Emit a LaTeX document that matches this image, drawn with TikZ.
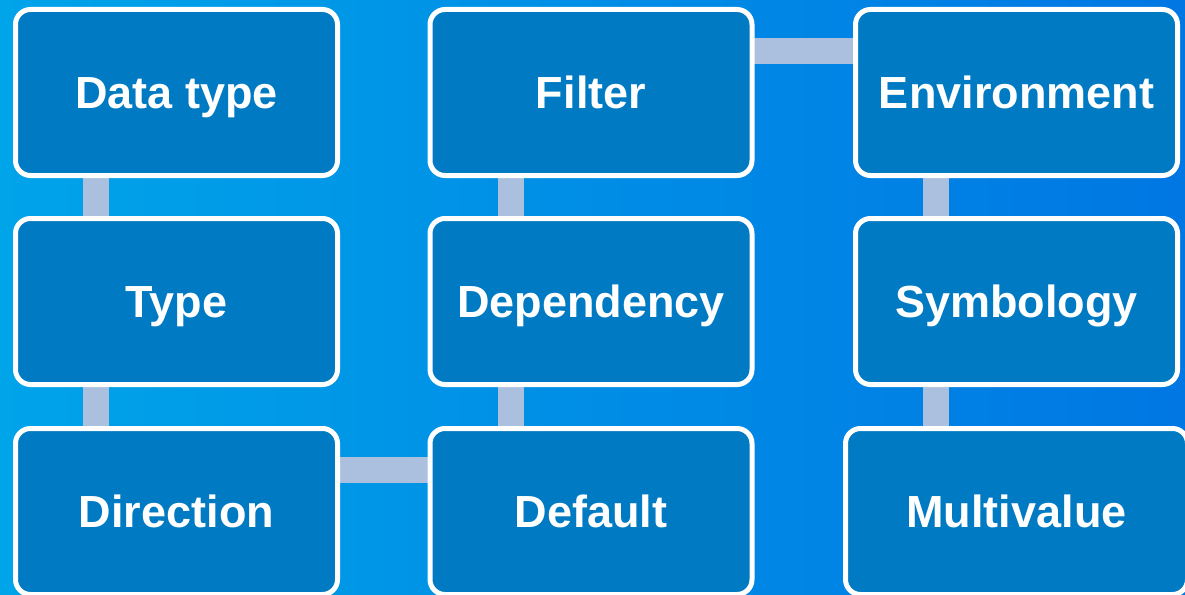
\documentclass[tikz,border=0pt]{standalone}
\usepackage{fontspec}
\setmainfont{Liberation Sans}
\usetikzlibrary{calc}
\definecolor{bgleft}{RGB}{0,164,233}
\definecolor{bgright}{RGB}{0,119,227}
\definecolor{boxfill}{RGB}{0,122,194}
\definecolor{linkcol}{RGB}{171,191,222}
\pgfdeclarelayer{backdrop}
\pgfdeclarelayer{links}
\pgfsetlayers{backdrop,links,main}
\tikzset{
  item/.style={draw=white, line width=5pt, fill=boxfill, rounded corners=15pt,
    minimum width=322pt, minimum height=166pt, inner sep=0pt, outer sep=0pt,
    text height=32pt, text depth=0pt,
    text=white, font=\fontsize{45}{54}\selectfont\bfseries},
  link/.style={draw=linkcol, line width=26pt},
}
\begin{document}
\begin{tikzpicture}[x=1pt,y=-1pt]
  \useasboundingbox (0,0) rectangle (1185,594);
  \begin{pgfonlayer}{backdrop}
    \shade[left color=bgleft, right color=bgright] (0,0) rectangle (1185,594);
  \end{pgfonlayer}

  % three columns of boxes
  \node[item] (dt) at (176.5,92.5)  {Data type};
  \node[item] (ty) at (176.5,301.5) {Type};
  \node[item] (di) at (176.5,511.5) {Direction};
  \node[item] (fi) at (591,92.5)    {Filter};
  \node[item] (de) at (591,301.5)   {Dependency};
  \node[item] (df) at (591,511.5)   {Default};
  \node[item] (en) at (1016.5,92.5) {Environment};
  \node[item] (sy) at (1016.5,301.5) {Symbology};
  \node[item, minimum width=342pt] (mv) at (1016.5,511.5) {Multivalue};

  % connecting bars, a quarter of the way along each box side
  \coordinate (syfoot) at ($(sy.south west)!0.25!(sy.south east)$);
  \begin{pgfonlayer}{links}
    \draw[link] ($(dt.south west)!0.25!(dt.south east)$) -- ($(ty.north west)!0.25!(ty.north east)$);
    \draw[link] ($(ty.south west)!0.25!(ty.south east)$) -- ($(di.north west)!0.25!(di.north east)$);
    \draw[link] ($(di.north east)!0.25!(di.south east)$) -- ($(df.north west)!0.25!(df.south west)$);
    \draw[link] ($(df.north west)!0.25!(df.north east)$) -- ($(de.south west)!0.25!(de.south east)$);
    \draw[link] ($(de.north west)!0.25!(de.north east)$) -- ($(fi.south west)!0.25!(fi.south east)$);
    \draw[link] ($(fi.north east)!0.25!(fi.south east)$) -- ($(en.north west)!0.25!(en.south west)$);
    \draw[link] ($(en.south west)!0.25!(en.south east)$) -- ($(sy.north west)!0.25!(sy.north east)$);
    \draw[link] (syfoot) -- (syfoot |- mv.north);
  \end{pgfonlayer}
\end{tikzpicture}
\end{document}
